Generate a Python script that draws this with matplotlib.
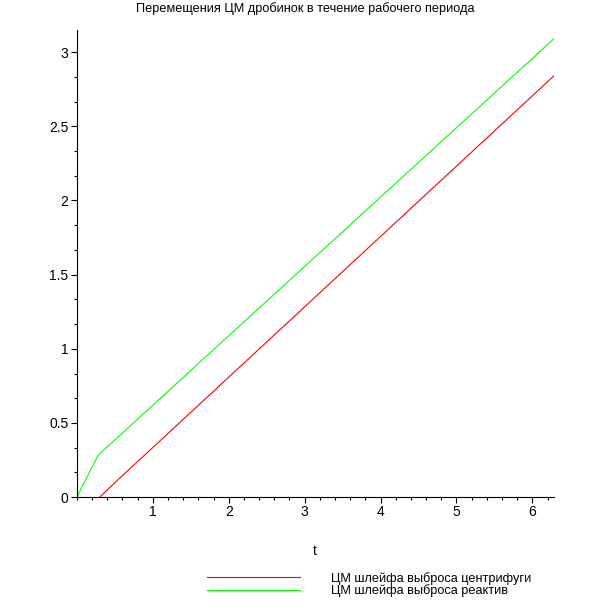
import numpy as np
import matplotlib
matplotlib.use("Agg")
import matplotlib.pyplot as plt
from matplotlib.ticker import AutoMinorLocator

plt.rcParams['font.family'] = ['Liberation Sans', 'DejaVu Sans']

# data
t_centr = [0.30, 0.55, 6.283]
y_centr = [0.0, 0.121, 2.84]
t_react = [0.0, 0.28, 6.283]
y_react = [0.0, 0.283, 3.09]

xticks = [1, 2, 3, 4, 5, 6]
yticks = [0, 0.5, 1, 1.5, 2, 2.5, 3]
ylabels = ["0", "0.5", "1", "1.5", "2", "2.5", "3"]

title = "Перемещения ЦМ дробинок в течение рабочего периода"
labels = ["ЦМ шлейфа выброса центрифуги", "ЦМ шлейфа выброса реактив"]

fig = plt.figure(figsize=(6.1, 6.1), dpi=100)
ax = fig.add_axes([0.126, 0.185, 0.782, 0.766])

l1, = ax.plot(t_centr, y_centr, color="#ff0000", lw=0.8)
l2, = ax.plot(t_react, y_react, color="#00ff00", lw=0.8)

ax.set_xlim(0, 6.283)
ax.set_ylim(0, 3.15)
ax.set_xticks(xticks)
ax.set_yticks(yticks)
ax.set_yticklabels(ylabels)
ax.xaxis.set_minor_locator(AutoMinorLocator(5))
ax.yaxis.set_minor_locator(AutoMinorLocator(3))
ax.tick_params(which="major", length=4, width=0.8, labelsize=10, pad=2)
ax.tick_params(which="minor", length=2, width=0.8)
for s in ["top", "right"]:
    ax.spines[s].set_visible(False)
for s in ["left", "bottom"]:
    ax.spines[s].set_linewidth(0.8)

fig.text(0.5, 0.997, title, ha="center", va="top", fontsize=9.2)
fig.text(0.516, 0.096, "t", ha="center", va="center", fontsize=10)

# legend sits below the axes like in the maple output
fig.legend([l1, l2], labels, loc="upper left", bbox_to_anchor=(0.339, 0.063),
           frameon=False, fontsize=9.2, handlelength=7.3, handletextpad=2.4,
           labelspacing=0.0, borderpad=0, borderaxespad=0)

fig.savefig("out.png", dpi=100)
